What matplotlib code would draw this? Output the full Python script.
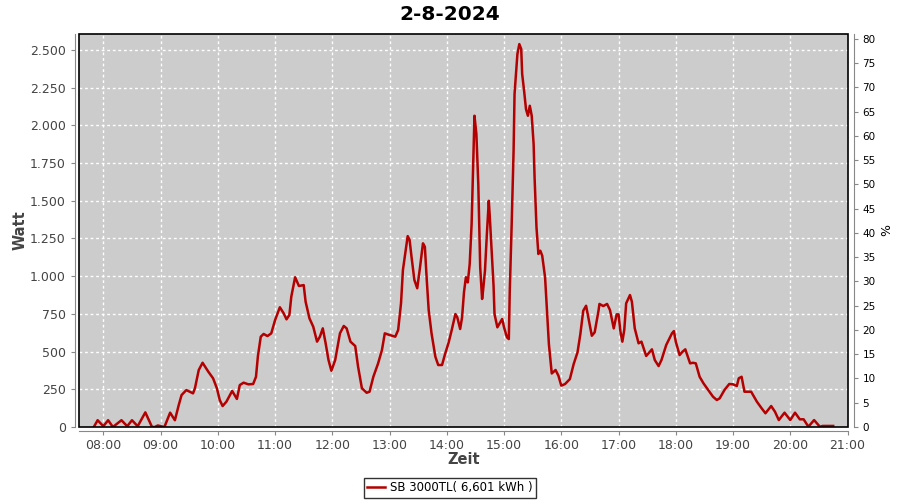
import matplotlib
matplotlib.use("Agg")
import matplotlib.pyplot as plt
import matplotlib.dates as mdates
import matplotlib.ticker as mticker
import pandas as pd
from matplotlib.patches import Rectangle

# Set data
day = "2024-08-02"
title = "2-8-2024"
series_label = "SB 3000TL( 6,601 kWh )"

times = ["07:50", "07:54", "08:00", "08:05", "08:10", "08:19", "08:25", "08:30", "08:36", "08:44",
         "08:51", "08:54", "08:57", "09:04", "09:10", "09:15", "09:19", "09:22", "09:27", "09:34",
         "09:36", "09:40", "09:44", "09:50", "09:55", "09:59", "10:02", "10:05", "10:09", "10:15",
         "10:20", "10:23", "10:27", "10:32", "10:37", "10:40", "10:42", "10:45", "10:48", "10:52",
         "10:56", "11:00", "11:05", "11:09", "11:12", "11:15", "11:17", "11:21", "11:25", "11:30",
         "11:32", "11:36", "11:40", "11:44", "11:47", "11:50", "11:53", "11:56", "11:59", "12:03",
         "12:08", "12:12", "12:15", "12:19", "12:24", "12:27", "12:31", "12:36", "12:39", "12:43",
         "12:48", "12:52", "12:55", "13:00", "13:06", "13:09", "13:12", "13:14", "13:17", "13:19",
         "13:21", "13:23", "13:26", "13:29", "13:32", "13:35", "13:37", "13:39", "13:41", "13:44",
         "13:48", "13:51", "13:55", "13:58", "14:02", "14:05", "14:09", "14:11", "14:14", "14:16",
         "14:18", "14:20", "14:22", "14:24", "14:26", "14:28", "14:29", "14:31", "14:33", "14:35",
         "14:37", "14:38", "14:40", "14:42", "14:44", "14:45", "14:47", "14:49", "14:50", "14:53",
         "14:55", "14:58", "15:00", "15:03", "15:05", "15:06", "15:08", "15:10", "15:11", "15:14",
         "15:16", "15:18", "15:19", "15:21", "15:23", "15:25", "15:27", "15:29", "15:31", "15:32",
         "15:34", "15:36", "15:38", "15:40", "15:43", "15:45", "15:47", "15:50", "15:54", "15:57",
         "16:00", "16:04", "16:09", "16:13", "16:17", "16:20", "16:23", "16:26", "16:29", "16:32",
         "16:35", "16:39", "16:40", "16:44", "16:48", "16:51", "16:54", "16:55", "16:58", "17:00",
         "17:02", "17:04", "17:06", "17:08", "17:12", "17:14", "17:17", "17:21", "17:24", "17:29",
         "17:35", "17:38", "17:42", "17:45", "17:50", "17:56", "17:58", "18:00", "18:04", "18:07",
         "18:10", "18:12", "18:15", "18:18", "18:21", "18:25", "18:29", "18:34", "18:39", "18:43",
         "18:46", "18:51", "18:56", "19:00", "19:04", "19:06", "19:09", "19:12", "19:16", "19:19",
         "19:25", "19:30", "19:34", "19:40", "19:44", "19:48", "19:54", "20:00", "20:05", "20:10",
         "20:14", "20:19", "20:25", "20:31", "20:34", "20:45"]

watt = [0, 45, 5, 45, 0, 45, 5, 45, 5, 97,
        0, 0, 10, 0, 95, 45, 145, 212, 245, 223,
        257, 378, 426, 367, 323, 257, 179, 139, 168, 239,
        186, 278, 294, 283, 285, 333, 470, 599, 617, 603,
        621, 709, 794, 754, 714, 743, 864, 993, 935, 941,
        831, 721, 665, 566, 599, 654, 555, 444, 373, 444,
        621, 670, 654, 566, 537, 400, 257, 227, 234, 333,
        422, 510, 621, 610, 599, 643, 820, 1041, 1174, 1266,
        1240, 1129, 975, 920, 1063, 1218, 1195, 975, 776, 621,
        466, 411, 411, 480, 562, 639, 749, 727, 650, 727,
        893, 993, 959, 1081, 1346, 1832, 2064, 1943, 1611, 1059,
        849, 904, 1036, 1280, 1500, 1401, 1169, 937, 749, 661,
        683, 716, 661, 595, 583, 904, 1346, 1832, 2208, 2473,
        2539, 2506, 2340, 2230, 2108, 2064, 2130, 2064, 1876, 1655,
        1324, 1147, 1169, 1136, 993, 771, 550, 355, 378, 340,
        274, 285, 318, 418, 495, 617, 771, 804, 705, 605,
        628, 771, 816, 802, 816, 776, 687, 654, 747, 747,
        632, 566, 643, 820, 875, 831, 654, 555, 566, 471,
        515, 444, 404, 444, 544, 621, 636, 566, 477, 499,
        515, 477, 422, 426, 422, 333, 290, 245, 201, 179,
        190, 245, 285, 283, 272, 323, 333, 234, 234, 234,
        168, 124, 91, 139, 101, 46, 95, 46, 95, 51,
        51, 2, 46, 2, 7, 7]

watt_ticks = [0, 250, 500, 750, 1000, 1250, 1500, 1750, 2000, 2250, 2500]
pct_ticks = [0, 5, 10, 15, 20, 25, 30, 35, 40, 45, 50, 55, 60, 65, 70, 75, 80]

df = pd.DataFrame({"time": pd.to_datetime([day + " " + t for t in times]), "watt": watt})

# Figure
fig = plt.figure(figsize=(9, 5), dpi=100)
ax = fig.add_axes([0.0878, 0.146, 0.8544, 0.786])
ax.set_facecolor("#cccccc")

ax.plot(df["time"], df["watt"], color="#b40000", linewidth=1.8, label=series_label)

# Axes ranges
ax.set_xlim(pd.Timestamp(day + " 07:34:30"), pd.Timestamp(day + " 21:00:30"))
ax.set_ylim(0, 2606)
ax.xaxis.set_major_locator(mdates.HourLocator())
ax.xaxis.set_major_formatter(mdates.DateFormatter("%H:%M"))
ax.set_yticks(watt_ticks)
ax.yaxis.set_major_formatter(mticker.FuncFormatter(lambda v, p: f"{v:,.0f}".replace(",", ".")))

# white dashed grid
ax.grid(True, color="white", linestyle=(0, (2, 2)), linewidth=1)
ax.set_axisbelow(True)

# offset gray axis lines + black plot border
for s in ["left", "bottom"]:
    ax.spines[s].set_position(("outward", 3))
    ax.spines[s].set_color("#888888")
ax.spines["top"].set_visible(False)
ax.spines["right"].set_visible(False)
ax.add_patch(Rectangle((0, 0), 1, 1, transform=ax.transAxes, fill=False,
                       edgecolor="black", linewidth=1.2, clip_on=False, zorder=5))
ax.tick_params(axis="both", colors="#888888", labelcolor="#444444", labelsize=9, length=3)
ax.tick_params(axis="x", pad=2.5)

ax.set_ylabel("Watt", fontsize=10.5, fontweight="bold", color="#444444", labelpad=2)
ax.set_xlabel("Zeit", fontsize=10.5, fontweight="bold", color="#444444", labelpad=0)

# right axis in %
ax2 = ax.twinx()
ax2.set_ylim(0, 81)
ax2.set_yticks(pct_ticks)
for s in ["left", "bottom", "top"]:
    ax2.spines[s].set_visible(False)
ax2.spines["right"].set_position(("outward", 4))
ax2.spines["right"].set_color("#888888")
ax2.tick_params(axis="y", colors="#888888", labelcolor="black", labelsize=7.5, length=3)
ax2.set_ylabel("%", fontsize=9, color="black", labelpad=3)

fig.suptitle(title, fontsize=14.5, fontweight="bold", y=0.99)

leg = fig.legend(loc="center", bbox_to_anchor=(0.5, 0.024), fontsize=8.5,
                 frameon=True, fancybox=False, handlelength=1.5, handletextpad=0.4,
                 borderpad=0.3)
leg.get_frame().set_edgecolor("black")
leg.get_frame().set_linewidth(1)

fig.savefig("out.png", dpi=100)
